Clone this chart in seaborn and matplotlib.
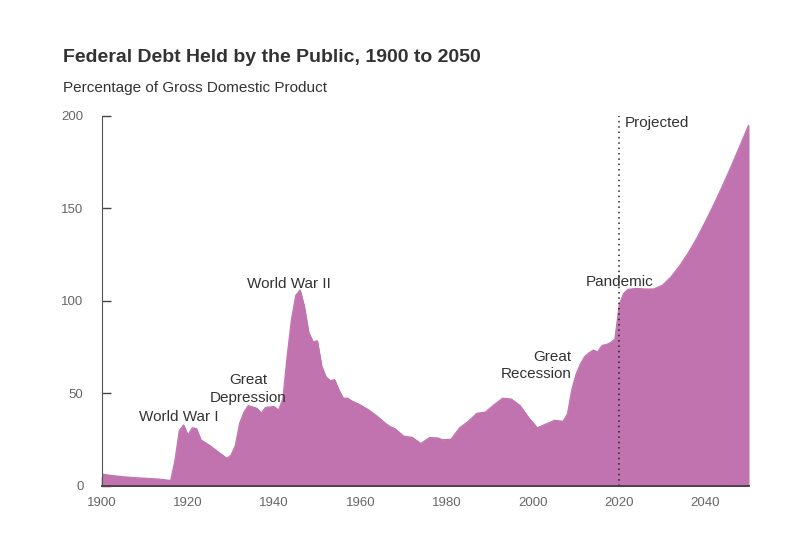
import numpy as np
import pandas as pd
import seaborn as sns
import matplotlib.pyplot as plt

sns.set_style("white")
plt.rcParams['font.family'] = ['Liberation Sans', 'DejaVu Sans']

# debt held by the public, % of GDP
years = [1900, 1902, 1905, 1908, 1910, 1913, 1916, 1917, 1918, 1919, 1920, 1921, 1922,
         1923, 1925, 1927, 1929, 1930, 1931, 1932, 1933, 1934, 1936, 1937, 1938, 1940,
         1941, 1942, 1943, 1944, 1945, 1946, 1947, 1948, 1949, 1950, 1951, 1952, 1953,
         1954, 1955, 1956, 1957, 1958, 1960, 1962, 1964, 1966, 1967, 1968, 1970, 1972,
         1974, 1976, 1978, 1979, 1981, 1983, 1985, 1987, 1989, 1991, 1993, 1995, 1997,
         1999, 2001, 2003, 2005, 2007, 2008, 2009, 2010, 2011, 2012, 2013, 2014, 2015,
         2016, 2017, 2018, 2019, 2020, 2021, 2022, 2024, 2026, 2028, 2030, 2032, 2034,
         2036, 2038, 2040, 2042, 2044, 2046, 2048, 2050]
debt = [6.5, 5.8, 5.0, 4.5, 4.2, 3.8, 3.0, 14, 30, 33, 27.5, 31.5, 31,
        25, 22, 18.5, 15, 16.7, 22, 34, 40, 43.5, 42, 39.5, 42.5, 43,
        41, 47, 70, 90, 103, 106, 97, 83, 78, 78.5, 65, 59, 57,
        57.5, 52, 47.5, 47.5, 46, 43.8, 41, 37.5, 33.5, 32, 31, 27, 26.3,
        23, 26.2, 26, 25, 25.3, 31.5, 35, 39.3, 40, 44, 47.5, 47, 43.5,
        37, 31.5, 33.5, 35.5, 35, 39, 52, 60.5, 66, 70, 72, 73.5, 72.5,
        76, 76.5, 77.5, 79.5, 98, 104, 106.3, 106.8, 106.5, 106.5, 108.5, 113, 119,
        126, 134, 143, 152.5, 162.5, 173, 184, 195]

notes = ["World War I", "Great\nDepression", "World War II",
         "Great\nRecession", "Pandemic"]
note_x = [1918, 1934, 1943.5, 2009, 2020.2]
note_y = [37.5, 52.5, 109, 65, 110]

df = pd.DataFrame({"year": years, "debt": debt})
fill = "#C073AE"
dark = "#333333"

fig = plt.figure(figsize=(8.11, 5.56), dpi=100)
ax = fig.add_axes([0.1253, 0.1259, 0.7977, 0.6655])

ax.fill_between(df.year, 0, df.debt, color=fill, edgecolor=fill, linewidth=0.6)
sns.lineplot(data=df, x="year", y="debt", color=fill, linewidth=0.8, ax=ax)

ax.axvline(2020, color="#222222", linestyle=(0, (1, 2.5)), linewidth=1.1)
ax.text(2021.3, 196, "Projected", fontsize=11, color=dark, va="center", ha="left")

for t, x, y in zip(notes, note_x, note_y):
    ha = "right" if "Recession" in t else "center"
    ax.text(x, y, t, fontsize=11, color=dark, ha=ha, va="center",
            linespacing=1.3)

ax.set_xlim(1900, 2050)
ax.set_ylim(0, 200)
ax.set_xticks(range(1900, 2051, 20))
ax.set_yticks(range(0, 201, 50))
ax.set_xlabel("")
ax.set_ylabel("")
ax.tick_params(direction="in", length=6.5, width=1, bottom=True, left=True,
               labelcolor="#666666", labelsize=9.5)
ax.tick_params(axis="x", pad=8, color="#3d2f3b")
ax.tick_params(axis="y", pad=13, color="#444444")
sns.despine(ax=ax)
ax.spines["left"].set_color("#555555")
ax.spines["bottom"].set_color("#4a3a48")
ax.spines["bottom"].set_linewidth(1.3)
ax.spines["bottom"].set_zorder(5)

fig.text(63 / 811, 1 - 58 / 556, "Federal Debt Held by the Public, 1900 to 2050",
         fontsize=14, fontweight="bold", color=dark, va="center")
fig.text(63 / 811, 1 - 88 / 556, "Percentage of Gross Domestic Product",
         fontsize=11, color=dark, va="center")

plt.savefig("out.png", dpi=100)
